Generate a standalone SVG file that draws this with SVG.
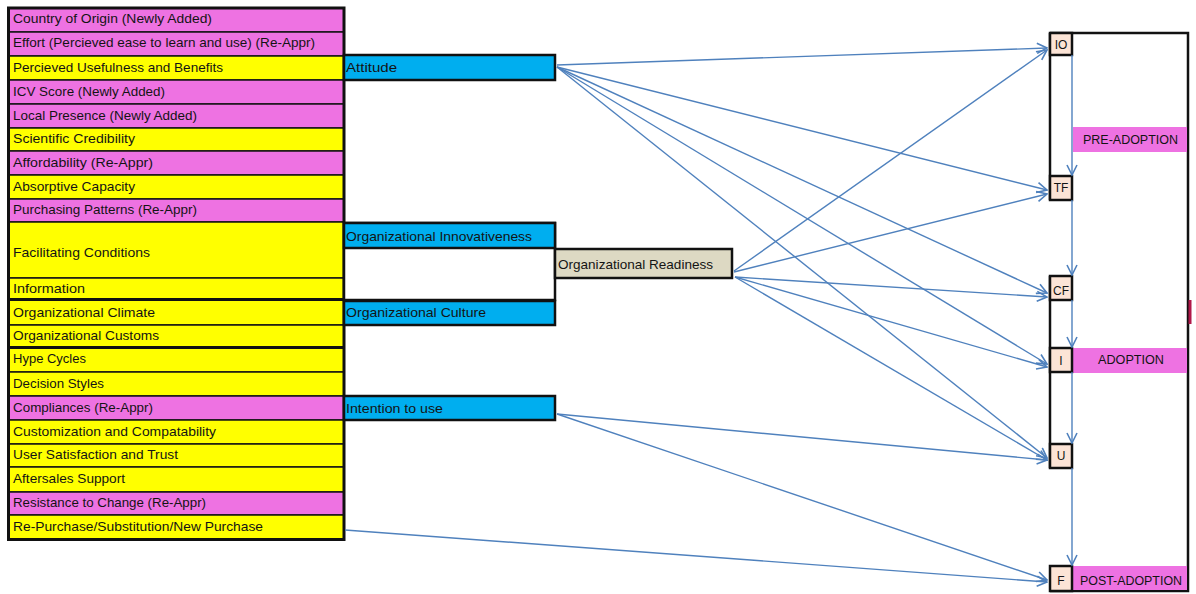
<svg xmlns="http://www.w3.org/2000/svg" width="1196" height="594" viewBox="0 0 1196 594">
  <style>
    .t { font-family: "Liberation Sans", Arial, sans-serif; font-size: 13.5px; fill: #141414; }
    .ts { font-family: "Liberation Sans", Arial, sans-serif; font-size: 12px; fill: #141414; }
    .pink { fill: #EE72E2; stroke: #151515; stroke-width: 1.5; }
    .yel { fill: #FFFF00; stroke: #151515; stroke-width: 1.5; }
    .blue { fill: #00AEEF; stroke: #111; stroke-width: 2.5; }
    .tan { fill: #DDD9C3; stroke: #111; stroke-width: 2.5; }
    .stage { fill: #FCE4D6; stroke: #111; stroke-width: 2.5; }
    .band { fill: #EE72E2; }
    .edge { fill: none; stroke: #111; stroke-width: 2.5; }
    .conn { fill: none; stroke: #4F81BD; stroke-width: 1.4; marker-end: url(#open); }
  </style>
  <defs>
    <marker id="open" viewBox="0 0 12 12" refX="11" refY="6" markerWidth="12" markerHeight="12" markerUnits="userSpaceOnUse" orient="auto">
      <path d="M1,1 L11,6 L1,11" fill="none" stroke="#4F81BD" stroke-width="1.6"/>
    </marker>
  </defs>

  <rect width="1196" height="594" fill="#ffffff"/>

  <!-- factor column -->
  <g id="factors">
    <g id="f-country"><rect class="pink" x="9" y="8" width="335" height="24"/><text class="t" x="13" y="23" textLength="199" lengthAdjust="spacingAndGlyphs">Country of Origin (Newly Added)</text></g>
    <g id="f-effort"><rect class="pink" x="9" y="32" width="335" height="24"/><text class="t" x="13" y="47" textLength="302" lengthAdjust="spacingAndGlyphs">Effort (Percieved ease to learn and use) (Re-Appr)</text></g>
    <g id="f-usefulness"><rect class="yel" x="9" y="56" width="335" height="24"/><text class="t" x="13" y="71.5" textLength="210" lengthAdjust="spacingAndGlyphs">Percieved Usefulness and Benefits</text></g>
    <g id="f-icv"><rect class="pink" x="9" y="80" width="335" height="24"/><text class="t" x="13" y="95.5" textLength="152" lengthAdjust="spacingAndGlyphs">ICV Score (Newly Added)</text></g>
    <g id="f-local"><rect class="pink" x="9" y="104" width="335" height="24"/><text class="t" x="13" y="119.5" textLength="184" lengthAdjust="spacingAndGlyphs">Local Presence (Newly Added)</text></g>
    <g id="f-scientific"><rect class="yel" x="9" y="128" width="335" height="23"/><text class="t" x="13" y="143" textLength="122" lengthAdjust="spacingAndGlyphs">Scientific Credibility</text></g>
    <g id="f-affordability"><rect class="pink" x="9" y="151" width="335" height="24"/><text class="t" x="13" y="166.5" textLength="140" lengthAdjust="spacingAndGlyphs">Affordability (Re-Appr)</text></g>
    <g id="f-absorptive"><rect class="yel" x="9" y="175" width="335" height="24"/><text class="t" x="13" y="190.5" textLength="122" lengthAdjust="spacingAndGlyphs">Absorptive Capacity</text></g>
    <g id="f-purchasing"><rect class="pink" x="9" y="199" width="335" height="23"/><text class="t" x="13" y="214" textLength="184" lengthAdjust="spacingAndGlyphs">Purchasing Patterns (Re-Appr)</text></g>
    <g id="f-facilitating"><rect class="yel" x="9" y="222" width="335" height="56"/><text class="t" x="13" y="257" textLength="137" lengthAdjust="spacingAndGlyphs">Facilitating Conditions</text></g>
    <g id="f-information"><rect class="yel" x="9" y="278" width="335" height="21"/><text class="t" x="13" y="292.5" textLength="72" lengthAdjust="spacingAndGlyphs">Information</text></g>
    <g id="f-climate"><rect class="yel" x="9" y="300" width="335" height="25"/><text class="t" x="13" y="316.5" textLength="142" lengthAdjust="spacingAndGlyphs">Organizational Climate</text></g>
    <g id="f-customs"><rect class="yel" x="9" y="325" width="335" height="22"/><text class="t" x="13" y="339.5" textLength="146" lengthAdjust="spacingAndGlyphs">Organizational Customs</text></g>
    <g id="f-hype"><rect class="yel" x="9" y="348" width="335" height="24"/><text class="t" x="13" y="363" textLength="73" lengthAdjust="spacingAndGlyphs">Hype Cycles</text></g>
    <g id="f-decision"><rect class="yel" x="9" y="372" width="335" height="24"/><text class="t" x="13" y="387.5" textLength="91" lengthAdjust="spacingAndGlyphs">Decision Styles</text></g>
    <g id="f-compliances"><rect class="pink" x="9" y="396" width="335" height="24"/><text class="t" x="13" y="411.5" textLength="140" lengthAdjust="spacingAndGlyphs">Compliances (Re-Appr)</text></g>
    <g id="f-customization"><rect class="yel" x="9" y="420" width="335" height="24"/><text class="t" x="13" y="435.5" textLength="203" lengthAdjust="spacingAndGlyphs">Customization and Compatability</text></g>
    <g id="f-satisfaction"><rect class="yel" x="9" y="444" width="335" height="23"/><text class="t" x="13" y="459" textLength="165" lengthAdjust="spacingAndGlyphs">User Satisfaction and Trust</text></g>
    <g id="f-aftersales"><rect class="yel" x="9" y="467" width="335" height="25"/><text class="t" x="13" y="483" textLength="112" lengthAdjust="spacingAndGlyphs">Aftersales Support</text></g>
    <g id="f-resistance"><rect class="pink" x="9" y="492" width="335" height="23"/><text class="t" x="13" y="507" textLength="193" lengthAdjust="spacingAndGlyphs">Resistance to Change  (Re-Appr)</text></g>
    <g id="f-repurchase"><rect class="yel" x="9" y="515" width="335" height="24"/><text class="t" x="13" y="530.5" textLength="250" lengthAdjust="spacingAndGlyphs">Re-Purchase/Substitution/New Purchase</text></g>
    <!-- group separators and frame -->
    <line x1="9" y1="299.5" x2="344" y2="299.5" stroke="#111" stroke-width="3"/>
    <line x1="9" y1="347.5" x2="344" y2="347.5" stroke="#111" stroke-width="3"/>
    <rect x="8.5" y="8" width="335.5" height="531.5" fill="none" stroke="#111" stroke-width="3"/>
  </g>

  <!-- constructs -->
  <g id="attitude"><rect class="blue" x="344" y="55" width="211" height="25"/><text class="t" x="346" y="72" textLength="51" lengthAdjust="spacingAndGlyphs">Attitude</text></g>
  <g id="org-innovativeness">
    <rect x="344" y="223" width="211" height="77" fill="#ffffff" stroke="#111" stroke-width="2.5"/>
    <rect class="blue" x="344" y="223" width="211" height="25"/>
    <text class="t" x="346" y="241" textLength="186" lengthAdjust="spacingAndGlyphs">Organizational Innovativeness</text>
  </g>
  <g id="org-culture"><rect class="blue" x="344" y="301" width="211" height="24"/><text class="t" x="346" y="317" textLength="140" lengthAdjust="spacingAndGlyphs">Organizational Culture</text></g>
  <g id="org-readiness"><rect class="tan" x="555" y="249" width="177" height="29"/><text class="t" x="558" y="269" textLength="155" lengthAdjust="spacingAndGlyphs">Organizational Readiness</text></g>
  <g id="intention"><rect class="blue" x="344" y="396" width="211" height="24"/><text class="t" x="346" y="413" textLength="97" lengthAdjust="spacingAndGlyphs">Intention to use</text></g>

  <!-- stage frame -->
  <g id="stage-frame">
    <path class="edge" d="M1050,33 H1188 V591 H1050"/>
    <line class="edge" x1="1050" y1="33" x2="1050" y2="200"/>
    <line class="edge" x1="1050" y1="276" x2="1050" y2="468"/>
    <rect x="1188.5" y="300" width="3" height="24" fill="#B0184A"/>
  </g>
  <g id="band-pre"><rect class="band" x="1073" y="127" width="114" height="25"/><text class="ts" x="1083" y="144" textLength="95" lengthAdjust="spacingAndGlyphs">PRE-ADOPTION</text></g>
  <g id="band-adoption"><rect class="band" x="1073" y="348" width="114" height="25"/><text class="ts" x="1098" y="364" textLength="66" lengthAdjust="spacingAndGlyphs">ADOPTION</text></g>
  <g id="band-post"><rect class="band" x="1073" y="566" width="114" height="24"/><text class="ts" x="1080" y="585" textLength="102" lengthAdjust="spacingAndGlyphs">POST-ADOPTION</text></g>

  <g id="stage-io"><rect class="stage" x="1050" y="33" width="22" height="22"/><text class="ts" x="1061" y="49" text-anchor="middle">IO</text></g>
  <g id="stage-tf"><rect class="stage" x="1050" y="176" width="22" height="24"/><text class="ts" x="1061" y="192" text-anchor="middle">TF</text></g>
  <g id="stage-cf"><rect class="stage" x="1050" y="276" width="22" height="24"/><text class="ts" x="1061" y="295" text-anchor="middle">CF</text></g>
  <g id="stage-i"><rect class="stage" x="1050" y="348" width="22" height="24"/><text class="ts" x="1061" y="365" text-anchor="middle">I</text></g>
  <g id="stage-u"><rect class="stage" x="1050" y="444" width="22" height="24"/><text class="ts" x="1061" y="460" text-anchor="middle">U</text></g>
  <g id="stage-f"><rect class="stage" x="1050" y="566" width="22" height="25"/><text class="ts" x="1061" y="585" text-anchor="middle">F</text></g>

  <!-- connectors -->
  <g id="connectors">
    <line class="conn" x1="557" y1="65" x2="1047" y2="48"/>
    <line class="conn" x1="557" y1="67" x2="1047" y2="190"/>
    <line class="conn" x1="557" y1="67" x2="1047" y2="293"/>
    <line class="conn" x1="557" y1="67" x2="1047" y2="364"/>
    <line class="conn" x1="557" y1="67" x2="1047" y2="458"/>

    <line class="conn" x1="734" y1="271" x2="1047" y2="50"/>
    <line class="conn" x1="734" y1="272" x2="1047" y2="194"/>
    <line class="conn" x1="735" y1="277" x2="1047" y2="297"/>
    <line class="conn" x1="735" y1="277" x2="1047" y2="367"/>
    <line class="conn" x1="735" y1="277" x2="1047" y2="460"/>

    <line class="conn" x1="557" y1="414" x2="1047" y2="460"/>
    <line class="conn" x1="557" y1="414" x2="1047" y2="580"/>
    <line class="conn" x1="345" y1="530" x2="1047" y2="582"/>

    <line class="conn" x1="1072" y1="55" x2="1072" y2="175"/>
    <line class="conn" x1="1072" y1="200" x2="1072" y2="275"/>
    <line class="conn" x1="1072" y1="300" x2="1072" y2="347"/>
    <line class="conn" x1="1072" y1="372" x2="1072" y2="443"/>
    <line class="conn" x1="1072" y1="468" x2="1072" y2="565"/>
  </g>
</svg>
